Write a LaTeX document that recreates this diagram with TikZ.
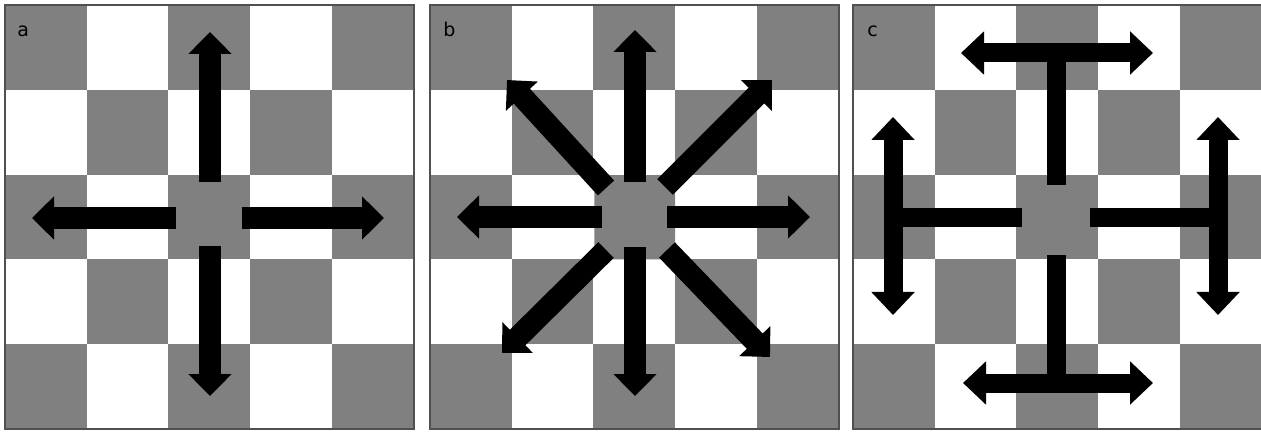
\documentclass[tikz,border=0pt]{standalone}
\usepackage{fontspec}
\setsansfont{DejaVu Sans}
\usepackage{xcolor}
\usepackage{tikz}
\usetikzlibrary{arrows.meta,calc}

\definecolor{sqgray}{RGB}{128,128,128}
\definecolor{framegray}{RGB}{80,80,80}

\begin{document}
\begin{tikzpicture}[x=0.5pt, y=-0.5pt,
    cell/.style={fill=sqgray},
    frame/.style={draw=framegray, line width=1pt},
    hub/.style={fill=sqgray, rounded corners=5pt},
    move/.style={-{Triangle[width=21pt,length=11pt]}, line width=#1, black},
    move/.default=11pt,
    both/.style={{Triangle[width=21pt,length=11.5pt]}-{Triangle[width=21pt,length=11.5pt]}, line width=9.5pt, black},
    stem/.style={line width=9.5pt, black},
    lbl/.style={font=\sffamily\fontsize{9.5}{10}\selectfont, text=black, anchor=base west, inner sep=0pt}
  ]
  \useasboundingbox (0,0) rectangle (1261,432);

  % Panel a: four directions
  \begin{scope}[shift={(5,5)}]
    \foreach \i/\j in {0/0,2/0,4/0,1/1,3/1,0/2,2/2,4/2,1/3,3/3,0/4,2/4,4/4}
      \fill[cell] (\i*81.7,\j*84.8) rectangle ++(81.7,84.8);
    \draw[frame] (0,0) rectangle (408.5,424);
    \node[lbl] (la) at (12,32) {a};
    \draw[move] (205,177) -- (205,27);
    \draw[move] (205,241) -- (205,391);
    \draw[move] (171,213) -- (27,213);
    \draw[move] (237,213) -- (379,213);
  \end{scope}

  % Panel b: eight directions
  \begin{scope}[shift={(430,5)}]
    \foreach \i/\j in {0/0,2/0,4/0,1/1,3/1,0/2,2/2,4/2,1/3,3/3,0/4,2/4,4/4}
      \fill[cell] (\i*81.7,\j*84.8) rectangle ++(81.7,84.8);
    \draw[frame] (0,0) rectangle (408.5,424);
    \node[lbl] (lb) at (13,32) {b};
    \fill[white] (163.4,169.6) rectangle (245.1,254.4);
    \fill[hub] (164.4,170.2) rectangle (245.1,254.4);
    \draw[move] (205,177) -- (205,25);
    \draw[move] (205,242) -- (205,391);
    \draw[move] (172,212) -- (27,212);
    \draw[move] (237,212) -- (380,212);
    \draw[move] (176,183) -- (77,75);
    \draw[move] (235,182) -- (342,75);
    \draw[move] (176,245) -- (72,348);
    \draw[move] (237,245) -- (340,352);
  \end{scope}

  % Panel c: T-shaped moves
  \begin{scope}[shift={(853,5)}]
    \foreach \i/\j in {0/0,2/0,4/0,1/1,3/1,0/2,2/2,4/2,1/3,3/3,0/4,2/4,4/4}
      \fill[cell] (\i*81.7,\j*84.8) rectangle ++(81.7,84.8);
    \draw[frame] (0,0) rectangle (408.5,424);
    \node[lbl] (lc) at (14,32) {c};
    % top
    \draw[stem] (203.5,48) -- (203.5,180);
    \draw[both] (108,48) -- (300,48);
    % bottom
    \draw[stem] (203.5,250) -- (203.5,378);
    \draw[both] (110,378) -- (300,378);
    % left
    \draw[stem] (40,212.5) -- (169,212.5);
    \draw[both] (40,112) -- (40,310);
    % right
    \draw[stem] (237,212.5) -- (365,212.5);
    \draw[both] (365,112) -- (365,310);
  \end{scope}
\end{tikzpicture}
\end{document}
